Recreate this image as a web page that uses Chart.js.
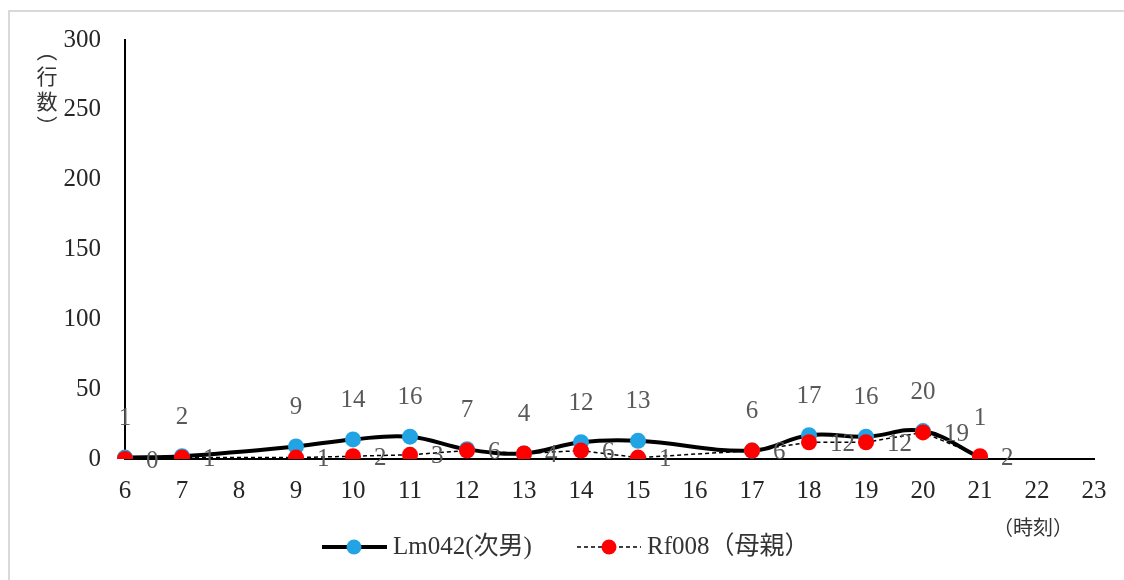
<!DOCTYPE html>
<html lang="ja">
<head>
<meta charset="utf-8">
<title>Lm042 / Rf008 時刻別行数</title>
<script src="https://cdn.jsdelivr.net/npm/chart.js@4/dist/chart.umd.min.js"></script>
<style>
  html, body { margin: 0; padding: 0; background: #fff; }
  #wrap { width: 1124px; height: 580px; position: relative; }
</style>
</head>
<body>
<div id="wrap"><canvas id="c" width="1124" height="580"></canvas></div>
<script>
// 時刻（カテゴリ）
const hours = ['6', '7', '8', '9', '10', '11', '12', '13', '14', '15', '16', '17', '18', '19', '20', '21', '22', '23'];
// 行数：Lm042（次男）
const lm042 = [1, 2, null, 9, 14, 16, 7, 4, 12, 13, null, 6, 17, 16, 20, 1, null, null];
// 行数：Rf008（母親）
const rf008 = [0, 1, null, 1, 2, 3, 6, 4, 6, 1, null, 6, 12, 12, 19, 2, null, null];
// 縦軸の目盛
const yTicks = [0, 50, 100, 150, 200, 250, 300];

const seriesNames = ['Lm042(次男)', 'Rf008（母親）'];
const SERIF = '"Liberation Serif", "Noto Sans CJK JP", serif';
const CJK = '"Noto Sans CJK JP", sans-serif';
const BLUE = '#22a3e3';
const RED = '#ff0000';

// 値ラベル・軸タイトル・凡例・外枠を描くプラグイン
const decorations = {
  id: 'decorations',
  beforeDraw(chart) {
    const ctx = chart.ctx;
    ctx.save();
    ctx.strokeStyle = '#d9d9d9';
    ctx.lineWidth = 2;
    ctx.strokeRect(9, 11, 1300, 800);
    ctx.restore();
  },
  afterDatasetsDraw(chart) {
    const ctx = chart.ctx;
    ctx.save();
    ctx.font = '25px ' + SERIF;
    ctx.fillStyle = '#595959';
    // Lm042 の値：点の上
    const m0 = chart.getDatasetMeta(1);
    m0.data.forEach((pt, i) => {
      const v = lm042[i];
      if (v === null) return;
      ctx.textAlign = 'center';
      ctx.textBaseline = 'middle';
      ctx.fillText(String(v), pt.x, pt.y - 39);
    });
    // Rf008 の値：点の右
    const m1 = chart.getDatasetMeta(0);
    m1.data.forEach((pt, i) => {
      const v = rf008[i];
      if (v === null) return;
      ctx.textAlign = 'left';
      ctx.textBaseline = 'middle';
      ctx.fillText(String(v), pt.x + 21, pt.y + 2);
    });
    ctx.restore();
  },
  afterDraw(chart) {
    const ctx = chart.ctx;
    ctx.save();
    // 縦軸タイトル（縦書き）
    ctx.fillStyle = '#333';
    ctx.font = '21px ' + CJK;
    ctx.textAlign = 'center';
    ctx.textBaseline = 'middle';
    const vChars = ['（', '行', '数', '）'];
    vChars.forEach((ch, k) => {
      const cy = 51 + k * 25;
      if (ch === '（' || ch === '）') {
        ctx.save();
        ctx.translate(47, cy);
        ctx.rotate(Math.PI / 2);
        ctx.fillText(ch, 0, 0);
        ctx.restore();
      } else {
        ctx.fillText(ch, 47, cy);
      }
    });
    // 横軸タイトル
    ctx.font = '20px ' + CJK;
    ctx.fillText('（時刻）', 1033, 527);

    // 凡例
    const ly = 547;
    // Lm042
    ctx.strokeStyle = '#000';
    ctx.lineWidth = 4;
    ctx.setLineDash([]);
    ctx.beginPath(); ctx.moveTo(322, ly); ctx.lineTo(387, ly); ctx.stroke();
    ctx.fillStyle = BLUE;
    ctx.beginPath(); ctx.arc(354, ly, 7.5, 0, Math.PI * 2); ctx.fill();
    ctx.fillStyle = '#333';
    ctx.font = '25px ' + SERIF;
    ctx.textAlign = 'left';
    ctx.fillText(seriesNames[0], 393, ly);
    // Rf008
    ctx.lineWidth = 1.5;
    ctx.setLineDash([4, 3]);
    ctx.beginPath(); ctx.moveTo(577, ly); ctx.lineTo(641, ly); ctx.stroke();
    ctx.setLineDash([]);
    ctx.fillStyle = RED;
    ctx.beginPath(); ctx.arc(609, ly, 7.5, 0, Math.PI * 2); ctx.fill();
    ctx.fillStyle = '#333';
    ctx.fillText(seriesNames[1], 647, ly);
    ctx.restore();
  }
};

new Chart(document.getElementById('c'), {
  type: 'line',
  data: {
    labels: hours,
    datasets: [
      {
        label: seriesNames[1],
        data: rf008,
        borderColor: '#000',
        borderWidth: 1.5,
        borderDash: [4, 3],
        tension: 0,
        spanGaps: true,
        pointRadius: 8,
        pointBackgroundColor: RED,
        pointBorderWidth: 0,
        order: 0
      },
      {
        label: seriesNames[0],
        data: lm042,
        borderColor: '#000',
        borderWidth: 4,
        tension: 0.4,
        cubicInterpolationMode: 'default',
        spanGaps: true,
        pointRadius: 8,
        pointBackgroundColor: BLUE,
        pointBorderWidth: 0,
        order: 1
      }
    ]
  },
  options: {
    responsive: false,
    animation: false,
    events: [],
    layout: { padding: { left: 0, top: 40, right: 30, bottom: 0 } },
    plugins: {
      legend: { display: false },
      tooltip: { enabled: false },
      title: { display: false }
    },
    scales: {
      x: {
        type: 'category',
        offset: false,
        grid: { display: false, drawTicks: false },
        border: { display: true, color: '#000', width: 2 },
        ticks: {
          color: '#262626',
          padding: 17,
          maxRotation: 0,
          autoSkip: false,
          font: { family: SERIF, size: 25 }
        },
        afterFit(scale) { scale.height = 121; }
      },
      y: {
        min: yTicks[0],
        max: yTicks[yTicks.length - 1],
        grid: { display: false, drawTicks: false },
        border: { display: true, color: '#000', width: 2 },
        afterBuildTicks(scale) { scale.ticks = yTicks.map(v => ({ value: v })); },
        ticks: {
          color: '#262626',
          padding: 24,
          font: { family: SERIF, size: 25 }
        },
        afterFit(scale) { scale.width = 125; }
      }
    }
  },
  plugins: [decorations]
});
</script>
</body>
</html>
